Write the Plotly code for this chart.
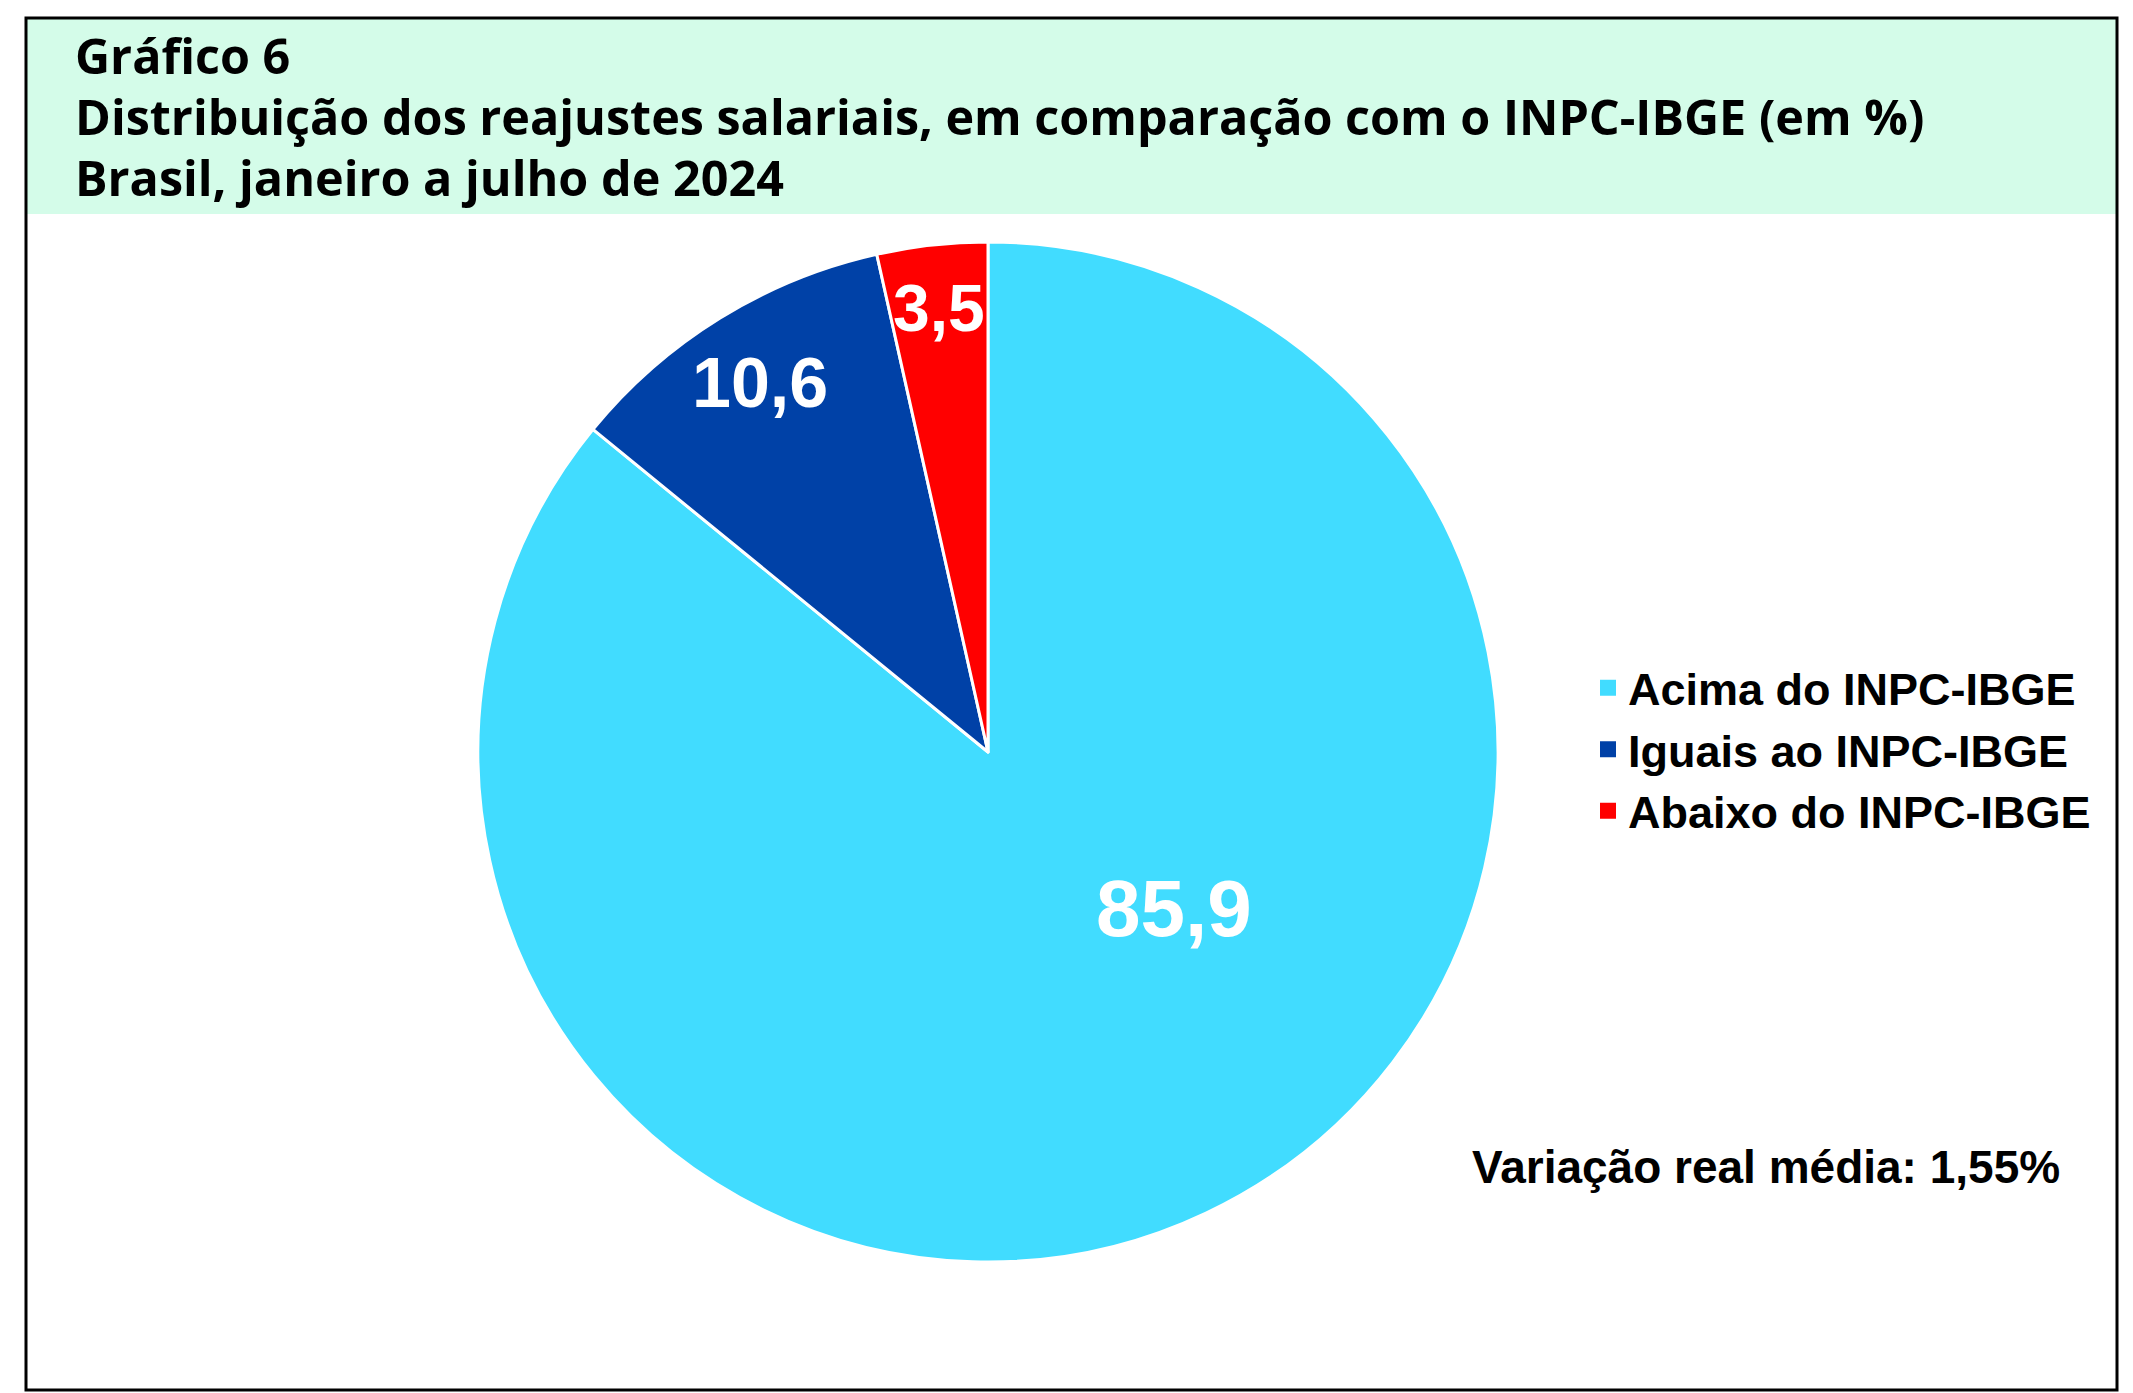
import math
import plotly.graph_objects as go

# ---- data ----
categories = ["Acima do INPC-IBGE", "Iguais ao INPC-IBGE", "Abaixo do INPC-IBGE"]
values = [85.9, 10.6, 3.5]
value_labels = ["85,9", "10,6", "3,5"]
title_lines = [
    "Gráfico 6",
    "Distribuição dos reajustes salariais, em comparação com o INPC-IBGE (em %)",
    "Brasil, janeiro a julho de 2024",
]
note_text = "Variação real média: 1,55%"

# ---- style ----
W, H = 2133, 1393
colors = ["#41DCFF", "#0041A7", "#FF0000"]
label_sizes = [80, 70, 66]
label_radius_frac = [0.476, 0.85, 0.876]
label_angle_shift = [-24.6, 0.0, 0.0]
cx, cy, R = 988, 752, 510  # pie centre/radius in pixels
title_font = "Open Sans"
body_font = "Liberation Sans"

def px_x(x):
    return x / W

def px_y(y):
    return 1 - y / H

fig = go.Figure()
fig.add_trace(go.Pie(
    labels=categories,
    values=values,
    sort=False,
    direction="clockwise",
    rotation=0,
    marker=dict(colors=colors, line=dict(color="white", width=3)),
    textinfo="none",
    hoverinfo="label+value",
    showlegend=False,
    domain=dict(x=[px_x(cx - R), px_x(cx + R)], y=[px_y(cy + R), px_y(cy - R)]),
))

# legend entries (square swatches) for each category
for cat, col in zip(categories, colors):
    fig.add_trace(go.Scatter(
        x=[None], y=[None], mode="markers", name=cat,
        marker=dict(symbol="square", size=16, color=col),
        showlegend=True, hoverinfo="skip",
    ))

annotations = []
# slice value labels, positioned from cumulative values
total = sum(values)
cum = 0.0
for v, txt, sz, rf, sh in zip(values, value_labels, label_sizes, label_radius_frac, label_angle_shift):
    mid = (cum + v / 2) / total * 360 + sh
    cum += v
    a = math.radians(mid)
    lx = cx + rf * R * math.sin(a)
    ly = cy - rf * R * math.cos(a)
    annotations.append(dict(
        x=px_x(lx), y=px_y(ly), xref="paper", yref="paper",
        text=txt, showarrow=False, xanchor="center", yanchor="middle",
        font=dict(family=body_font, size=sz, color="white", weight="bold"),
    ))

title_y = [55, 116, 177]
for line, ty in zip(title_lines, title_y):
    annotations.append(dict(
        x=px_x(73), y=px_y(ty), xref="paper", yref="paper",
        text=line, showarrow=False, xanchor="left", yanchor="middle",
        font=dict(family=title_font, size=48.5, color="black", weight="bold"),
    ))

annotations.append(dict(
    x=px_x(1470), y=px_y(1167), xref="paper", yref="paper",
    text=note_text, showarrow=False, xanchor="left", yanchor="middle",
    font=dict(family=body_font, size=46, color="black", weight="bold"),
))

shapes = [
    dict(type="rect", xref="paper", yref="paper", layer="below",
         x0=px_x(26), x1=px_x(2117), y0=px_y(214), y1=px_y(18),
         fillcolor="#D4FCE9", line=dict(width=0)),
    dict(type="rect", xref="paper", yref="paper", layer="above",
         x0=px_x(26), x1=px_x(2117), y0=px_y(1390), y1=px_y(18),
         fillcolor="rgba(0,0,0,0)", line=dict(color="black", width=3)),
]

fig.update_layout(
    width=W, height=H,
    margin=dict(l=0, r=0, t=0, b=0),
    paper_bgcolor="white",
    plot_bgcolor="rgba(0,0,0,0)",
    xaxis=dict(visible=False),
    yaxis=dict(visible=False),
    showlegend=True,
    legend=dict(
        x=px_x(1588), y=px_y(652), xanchor="left", yanchor="top",
        font=dict(family=body_font, size=45, color="black", weight="bold"),
        bgcolor="rgba(0,0,0,0)",
        traceorder="normal",
    ),
    annotations=annotations,
    shapes=shapes,
)

fig.write_html(
    "out.html",
    config={"displayModeBar": False},
    post_script="document.body.style.margin='0';document.body.style.overflow='hidden';",
)
